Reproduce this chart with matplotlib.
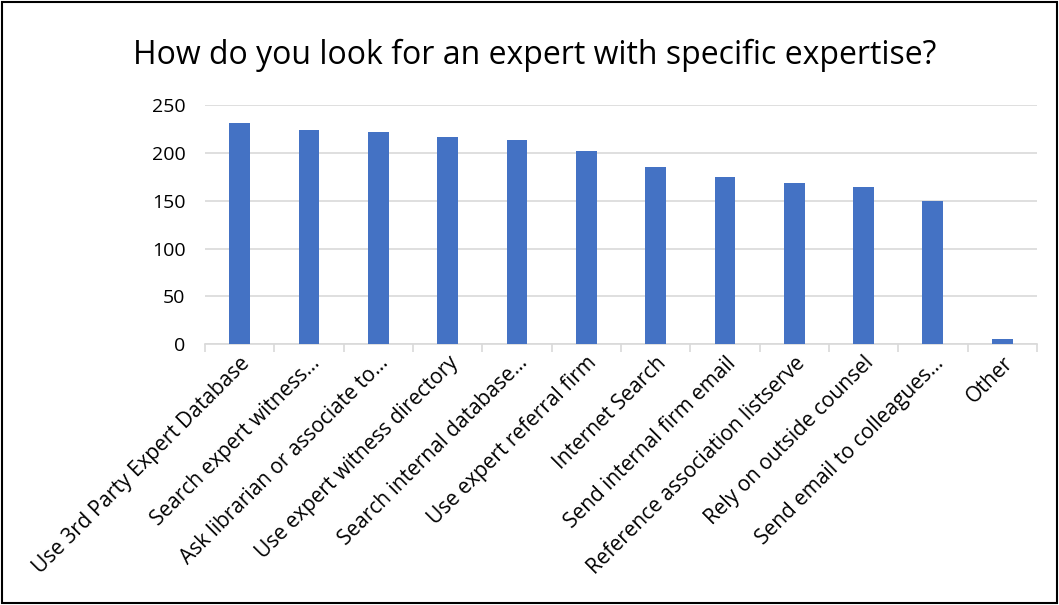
import numpy as np
import matplotlib.pyplot as plt
from matplotlib.patches import Rectangle

categories = ['Use 3rd Party Expert Database', 'Search expert witness…',
              'Ask librarian or associate to…', 'Use expert witness directory',
              'Search internal database…', 'Use expert referral firm',
              'Internet Search', 'Send internal firm email',
              'Reference association listserve', 'Rely on outside counsel',
              'Send email to colleagues…', 'Other']
counts = [231, 224, 222, 217, 214, 202, 185, 175, 169, 164, 150, 6]
yticks = [0, 50, 100, 150, 200, 250]

plt.rcParams['font.family'] = ['Open Sans', 'DejaVu Sans']

fig = plt.figure(figsize=(10.59, 6.05), dpi=100)
ax = fig.add_axes([0.1936, 0.431, 0.7855, 0.395])

x = np.arange(len(categories))
ax.bar(x, counts, width=0.3, color='#4472c4', zorder=3)

ax.set_xlim(-0.5, len(categories) - 0.5)
ax.set_ylim(0, 250)
ax.set_yticks(yticks)
ax.set_yticklabels([str(v) for v in yticks], fontsize=14)
ax.tick_params(axis='y', length=0, pad=14)
ax.grid(axis='y', color='#d9d9d9', linewidth=1.2, zorder=0)

ax.set_xticks(x)
ax.set_xticklabels(categories, rotation=45, ha='right', rotation_mode='anchor', fontsize=15)
ax.tick_params(axis='x', length=0, pad=6)
ax.set_xticks(np.arange(-0.5, len(categories), 1), minor=True)
ax.tick_params(axis='x', which='minor', length=6, color='#d9d9d9', width=1.2)

for s in ['top', 'right', 'left']:
    ax.spines[s].set_visible(False)
ax.spines['bottom'].set_color('#d9d9d9')
ax.spines['bottom'].set_linewidth(1.2)

fig.text(0.505, 0.909, 'How do you look for an expert with specific expertise?',
         ha='center', va='center', fontsize=23)

fig.patches.append(Rectangle((0.002, 0.003), 0.996, 0.994, transform=fig.transFigure,
                             fill=False, edgecolor='black', linewidth=1.5))

plt.savefig('out.png', dpi=100)
